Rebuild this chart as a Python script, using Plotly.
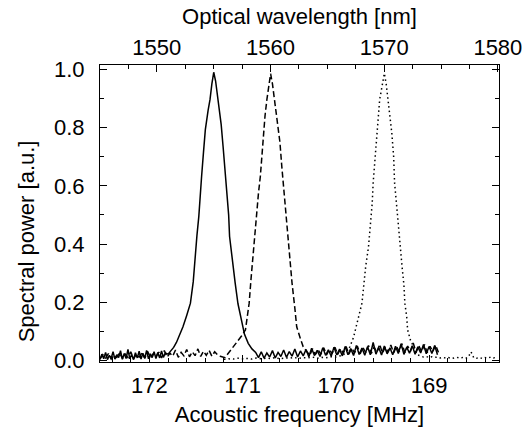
import plotly.graph_objects as go

# ---------------- data (acoustic frequency in MHz, normalized spectral power) ----------------
solid_left_x = [172.53,172.51,172.49,172.47,172.45,172.43,172.41,172.39,172.37,172.35,
                172.33,172.31,172.29,172.27,172.25,172.23,172.21,172.19,172.17,172.15,
                172.13,172.11,172.09,172.07,172.05,172.03,172.01,171.99,171.97,171.95,
                171.93,171.91,171.89,171.87,171.85,171.83]
solid_left_y = [0.004,0.022,0.006,0.028,0.003,0.018,0.008,0.030,0.005,0.020,
                0.010,0.034,0.004,0.024,0.007,0.038,0.006,0.021,0.003,0.027,
                0.009,0.032,0.005,0.025,0.008,0.035,0.006,0.023,0.010,0.030,
                0.007,0.028,0.009,0.033,0.011,0.026]
solid_peak_x = [171.80,171.77,171.74,171.71,171.68,171.64,171.60,171.56,171.53,171.51,
                171.49,171.47,171.45,171.44,171.42,171.40,171.37,171.35,171.33,171.31,
                171.29,171.27,171.26,171.23,171.21,171.19,171.17,171.15,171.14,171.11,
                171.08,171.05,171.01,170.98,170.94,170.90,170.86]
solid_peak_y = [0.022,0.032,0.045,0.062,0.085,0.116,0.155,0.197,0.270,0.357,
                0.430,0.495,0.570,0.633,0.715,0.793,0.860,0.896,0.950,0.990,
                0.960,0.915,0.896,0.810,0.736,0.660,0.587,0.500,0.426,0.340,
                0.266,0.195,0.128,0.090,0.059,0.040,0.028]
solid_right_x = [170.83,170.80,170.77,170.74,170.71,170.68,170.65,170.62,170.59,170.56,
                 170.53,170.50,170.47,170.44,170.41,170.38,170.35,170.32,170.29,170.26,
                 170.23,170.20,170.17,170.14,170.11,170.08,170.05,170.02,169.99,169.96,
                 169.93,169.90,169.87,169.84,169.81,169.78,169.75,169.72,169.69,169.66,
                 169.63,169.60,169.57,169.54,169.51,169.48,169.45,169.42,169.39,169.36,
                 169.33,169.30,169.27,169.24,169.21,169.18,169.15,169.12,169.09,169.06,
                 169.03,169.00,168.97,168.94,168.91]
solid_right_y = [0.010,0.030,0.008,0.026,0.012,0.034,0.009,0.028,0.014,0.036,
                 0.011,0.031,0.015,0.040,0.012,0.033,0.016,0.038,0.013,0.042,
                 0.017,0.035,0.014,0.044,0.018,0.037,0.015,0.046,0.019,0.039,
                 0.016,0.048,0.020,0.041,0.017,0.052,0.021,0.043,0.018,0.047,
                 0.020,0.062,0.022,0.045,0.019,0.050,0.023,0.044,0.020,0.049,
                 0.024,0.058,0.021,0.046,0.025,0.051,0.022,0.047,0.026,0.055,
                 0.023,0.048,0.024,0.052,0.020]

dashed_left_x = [172.53,172.50,172.47,172.44,172.41,172.38,172.35,172.32,172.29,172.26,
                 172.23,172.20,172.17,172.14,172.11,172.08,172.05,172.02,171.99,171.96,
                 171.93,171.90,171.87,171.84,171.81,171.78,171.75,171.72,171.69,171.66,
                 171.63,171.60,171.57,171.54,171.51,171.48,171.45,171.42,171.39,171.36,
                 171.33,171.30,171.27,171.24]
dashed_left_y = [0.006,0.020,0.009,0.024,0.005,0.018,0.011,0.027,0.007,0.022,
                 0.010,0.030,0.006,0.021,0.012,0.026,0.008,0.032,0.010,0.023,
                 0.013,0.029,0.009,0.034,0.012,0.025,0.015,0.036,0.011,0.028,
                 0.016,0.038,0.013,0.030,0.017,0.040,0.014,0.032,0.018,0.035,
                 0.015,0.030,0.020,0.015]
dashed_peak_x = [171.19,171.14,171.09,171.05,171.01,170.97,170.95,170.93,170.91,170.89,
                 170.87,170.85,170.83,170.81,170.79,170.78,170.76,170.74,170.72,170.70,
                 170.68,170.66,170.63,170.60,170.58,170.55,170.53,170.50,170.47,170.44,
                 170.42,170.38,170.35,170.31]
dashed_peak_y = [0.010,0.030,0.050,0.070,0.085,0.105,0.150,0.197,0.280,0.357,
                 0.440,0.518,0.575,0.633,0.720,0.782,0.840,0.896,0.950,0.985,
                 0.950,0.900,0.839,0.750,0.667,0.560,0.460,0.360,0.266,0.180,
                 0.116,0.075,0.047,0.030]
dashed_right_x = [170.28,170.25,170.22,170.19,170.16,170.13,170.10,170.07,170.04,170.01,
                  169.98,169.95,169.92,169.89,169.86,169.83,169.80,169.77,169.74,169.71,
                  169.68,169.65,169.62,169.59,169.56,169.53,169.50,169.47,169.44,169.41,
                  169.38,169.35,169.32,169.29,169.26,169.23,169.20,169.17,169.14,169.11,
                  169.08,169.05,169.02,168.99,168.96,168.93,168.90]
dashed_right_y = [0.018,0.040,0.020,0.036,0.022,0.044,0.019,0.038,0.024,0.046,
                  0.021,0.041,0.025,0.048,0.022,0.043,0.026,0.050,0.023,0.045,
                  0.027,0.052,0.024,0.046,0.028,0.056,0.025,0.047,0.029,0.053,
                  0.026,0.049,0.030,0.058,0.027,0.050,0.031,0.060,0.028,0.051,
                  0.030,0.055,0.027,0.049,0.031,0.053,0.028]

dotted_left_x = [171.20,171.15,171.10,171.05,171.00,170.95,170.90,170.85,170.80,170.75,
                 170.70,170.65,170.60,170.55,170.50,170.45,170.40,170.35,170.30,170.25,
                 170.20,170.15,170.10,170.05,170.00,169.95]
dotted_left_y = [0.004,0.006,0.005,0.008,0.006,0.007,0.005,0.009,0.006,0.008,
                 0.007,0.010,0.006,0.009,0.008,0.011,0.007,0.010,0.009,0.012,
                 0.008,0.011,0.010,0.013,0.012,0.015]
dotted_peak_x = [169.92,169.88,169.85,169.81,169.78,169.75,169.72,169.70,169.68,169.65,
                 169.63,169.61,169.60,169.58,169.56,169.54,169.53,169.50,169.48,169.46,
                 169.44,169.42,169.40,169.38,169.37,169.35,169.33,169.31,169.29,169.27,
                 169.26,169.24,169.23,169.20,169.17,169.14,169.12]
dotted_peak_y = [0.019,0.035,0.047,0.080,0.116,0.155,0.197,0.260,0.323,0.390,
                 0.460,0.540,0.610,0.700,0.782,0.850,0.896,0.950,0.986,0.950,
                 0.896,0.840,0.782,0.700,0.610,0.540,0.460,0.390,0.323,0.260,
                 0.197,0.150,0.105,0.070,0.047,0.030,0.019]
dotted_right_x = [169.09,169.06,169.03,169.00,168.97,168.94,168.91,168.88,168.85,168.82,
                  168.79,168.76,168.73,168.70,168.67,168.64,168.61,168.58,168.55,168.52,
                  168.49,168.46,168.43,168.40,168.37,168.34,168.31,168.28]
dotted_right_y = [0.015,0.012,0.014,0.010,0.013,0.011,0.012,0.009,0.011,0.008,
                  0.010,0.007,0.009,0.011,0.008,0.010,0.007,0.012,0.030,0.009,
                  0.008,0.011,0.007,0.010,0.008,0.012,0.009,0.011]

freq_ticks = [172, 171, 170, 169]
wl_ticks = [1550, 1560, 1570, 1580]
power_ticks = [0.0, 0.2, 0.4, 0.6, 0.8, 1.0]
freq_range = [172.53, 168.25]
wl_range = [1545, 1580.1]
power_range = [-0.005, 1.015]

FONT = "Liberation Sans, Arial, Helvetica, sans-serif"
LW = 1.5

fig = go.Figure()
fig.add_trace(go.Scatter(x=solid_left_x + solid_peak_x + solid_right_x,
                         y=solid_left_y + solid_peak_y + solid_right_y,
                         mode="lines", line=dict(color="black", width=LW),
                         showlegend=False))
fig.add_trace(go.Scatter(x=dashed_left_x + dashed_peak_x + dashed_right_x,
                         y=dashed_left_y + dashed_peak_y + dashed_right_y,
                         mode="lines", line=dict(color="black", width=LW, dash="6px,3px"),
                         showlegend=False))
fig.add_trace(go.Scatter(x=dotted_left_x + dotted_peak_x + dotted_right_x,
                         y=dotted_left_y + dotted_peak_y + dotted_right_y,
                         mode="lines", line=dict(color="black", width=LW, dash="1.5px,3px"),
                         showlegend=False))
# invisible trace so the top wavelength axis is registered
fig.add_trace(go.Scatter(x=wl_range, y=[None, None], xaxis="x2", mode="lines",
                         line=dict(color="rgba(0,0,0,0)"), showlegend=False, hoverinfo="skip"))

tick_common = dict(ticks="inside", tickcolor="black", tickwidth=1, showline=True,
                   linecolor="black", linewidth=1, showgrid=False, zeroline=False,
                   ticklabeloverflow="allow", automargin=False,
                   tickfont=dict(family=FONT, size=22, color="black"))

fig.update_layout(
    width=522, height=427,
    margin=dict(l=100, r=23, t=65, b=65, autoexpand=False),
    paper_bgcolor="white", plot_bgcolor="white",
    font=dict(family=FONT, size=22, color="black"),
    xaxis=dict(range=freq_range, tickmode="array", tickvals=freq_ticks,
               ticktext=[str(v) for v in freq_ticks], ticklen=7,
               minor=dict(ticks="inside", dtick=0.2, tick0=0, ticklen=4, tickcolor="black"),
               ticklabelstandoff=4,
               title=dict(text="Acoustic frequency [MHz]", standoff=9,
                          font=dict(family=FONT, size=22, color="black")),
               mirror=False, **tick_common),
    xaxis2=dict(range=wl_range, overlaying="x", side="top", anchor="y",
                tickmode="array", tickvals=wl_ticks, ticktext=[str(v) for v in wl_ticks],
                ticklen=7,
                minor=dict(ticks="inside", dtick=2.5, tick0=1550, ticklen=4, tickcolor="black"),
                ticklabelstandoff=0,
                title=dict(text="Optical wavelength [nm]", standoff=4,
                           font=dict(family=FONT, size=22, color="black")),
                **tick_common),
    yaxis=dict(range=power_range, tickmode="array", tickvals=power_ticks,
               ticktext=["%.1f" % v for v in power_ticks], ticklen=7,
               minor=dict(ticks="inside", dtick=0.1, tick0=0, ticklen=4, tickcolor="black"),
               ticklabelstandoff=10, mirror="ticks", **tick_common),
    annotations=[dict(text="Spectral power [a.u.]", textangle=-90, showarrow=False,
                      xref="paper", yref="paper", x=-0.185, y=0.407,
                      xanchor="center", yanchor="middle",
                      font=dict(family=FONT, size=22, color="black"))],
)

fig.write_html("out.html")
